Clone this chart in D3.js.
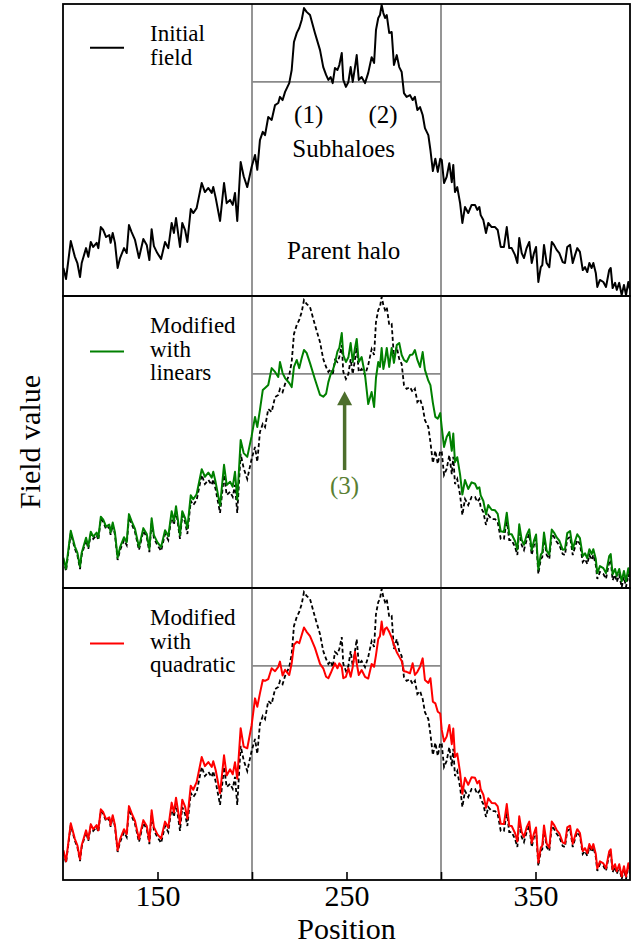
<!DOCTYPE html>
<html>
<head>
<meta charset="utf-8">
<script src="https://cdn.jsdelivr.net/npm/d3@7"></script>
<style>
body{margin:0;background:#fff;}
svg{display:block;}
svg text{font-family:"Liberation Serif","Times New Roman","DejaVu Serif",serif;}
</style>
</head>
<body>
<svg id="chart" width="641" height="947"></svg>
<script>
// sample positions (shared by the three fields)
var position = [
  100.2,101.6,104.1,106.3,107.6,109.0,109.9,112.2,113.4,114.7,116.0,117.8,118.7,120.0,121.3,122.8,124.5,125.2,126.3,127.5,128.9,
  130.2,132.3,133.7,134.9,136.3,138.1,140.2,142.5,144.3,145.7,146.9,148.1,149.9,
  151.9,154.0,155.7,157.5,158.7,159.8,161.9,163.1,164.6,165.8,167.6,168.9,170.7,
  173.4,175.1,176.9,178.7,179.5,180.8,183.1,185.2,186.6,188.4,189.8,191.0,192.2,194.0,195.6,197.5,
  199.8,201.6,202.8,204.2,205.7,206.9,208.6,210.4,212.2,213.9,
  214.8,216.2,217.5,219.7,221.0,222.2,223.7,225.0,226.3,227.5,
  228.9,230.7,233.3,236.0,237.7,239.2,240.4,241.6,242.7,243.9,
  245.2,246.2,247.5,248.3,249.7,251.0,252.2,253.3,254.5,255.4,
  256.5,258.0,259.8,261.5,263.3,264.6,265.6,266.8,267.7,268.6,
  269.5,270.4,271.3,272.6,273.9,275.1,276.6,277.9,279.2,280.4,
  281.8,283.6,285.0,286.2,287.5,288.9,290.3,291.5,293.3,294.4,
  295.7,297.0,298.3,299.6,300.4,
  301.6,303.0,304.4,305.7,306.5,307.4,308.6,310.1,311.3,312.7,
  314.4,316.2,318.0,319.2,320.3,321.0,322.4,323.8,325.0,326.8,
  328.6,330.0,331.6,333.3,334.8,336.1,337.4,339.2,340.4,341.4,
  342.7,343.9,345.3,346.7,348.0,349.2,350.3,351.5,352.8,353.6,
  354.5,355.9,357.3,358.6,359.8,361.2,362.6,364.4,365.6,366.8,
  368.3,369.7,370.9,372.1,373.5,375.0,376.2,377.4,378.5,379.7,
  380.6,381.9,382.7,384.1,385.9,387.3,389.0,389.8,390.8,392.1,
  393.0,394.3,395.6,396.8,397.9,399.1,400.0
];

var initialField = [
  9.6,5.8,18.8,13.4,11.3,6.5,11.3,16.4,13.4,18.5,16.8,18.2,16.4,23.6,22.6,20.2,20.9,18.2,21.6,18.2,9.6,
  13.0,16.4,14.7,24.3,21.9,19.2,13.0,19.5,17.5,12.3,22.9,17.1,14.7,
  12.7,18.5,16.4,25.0,21.6,26.7,16.8,25.0,22.6,18.5,29.8,28.4,30.1,
  38.7,35.6,37.0,35.3,37.3,33.6,25.7,38.7,31.8,32.9,31.2,35.3,25.7,45.9,41.0,37.3,
  44.2,48.3,43.2,53.4,56.2,55.1,61.3,60.3,65.4,66.1,
  68.2,67.1,69.9,72.9,77.4,87.0,90.1,91.8,94.5,98.6,
  97.3,96.2,90.1,84.2,78.4,75.7,74.0,75.0,72.9,78.1,
  77.4,79.1,83.2,74.0,71.6,73.3,78.4,73.3,78.4,82.5,
  74.0,75.0,72.9,76.4,81.8,79.8,91.1,95.2,96.2,99.7,
  96.9,95.2,96.2,90.1,90.4,79.1,82.5,78.4,76.7,69.5,
  68.2,68.8,67.1,68.2,63.7,64.7,62.0,57.5,55.1,50.0,
  42.8,47.0,42.5,47.0,46.6,
  38.7,40.8,45.5,39.0,44.9,35.6,37.3,31.8,25.0,30.5,
  28.4,31.2,31.2,29.5,30.5,27.7,26.0,21.6,25.0,23.6,
  23.6,22.6,16.8,16.8,23.6,16.4,16.4,14.0,11.3,19.9,
  14.7,13.0,16.4,18.5,11.3,14.7,16.8,4.8,9.9,10.6,
  17.5,11.3,9.9,18.5,17.5,15.8,14.7,11.6,11.3,16.8,
  17.5,11.3,14.0,16.4,15.1,8.9,9.9,8.2,11.3,9.6,
  11.3,7.9,3.1,5.5,4.8,3.1,8.9,9.6,2.7,4.5,
  2.1,4.5,0.3,3.8,0.3,4.8,2.1
];

var linearField = [
  10.4,6.6,19.6,14.2,12.1,7.3,12.1,17.2,14.2,19.3,17.6,19.0,17.2,24.4,23.4,21.0,21.7,19.0,22.4,19.0,10.4,
  14.0,17.4,15.7,25.3,22.9,20.2,14.0,20.5,18.5,13.3,23.9,18.1,15.7,
  14.0,19.8,17.7,26.3,22.9,28.0,18.1,26.3,23.9,20.5,31.8,30.4,32.1,
  40.7,38.1,39.5,37.8,39.8,36.1,28.2,42.2,35.3,36.4,34.7,39.8,30.2,50.7,46.2,44.9,
  52.0,58.6,55.1,61.0,67.8,68.5,69.5,75.3,74.0,72.3,
  77.4,73.6,71.9,70.2,68.8,75.7,78.1,75.3,78.8,81.5,
  80.5,77.0,71.5,66.1,65.5,66.5,70.5,73.2,74.5,77.0,
  81.0,82.2,87.3,79.8,77.4,79.0,83.9,77.4,82.2,85.3,
  77.4,79.1,73.0,63.0,67.1,62.0,72.0,77.4,75.7,82.2,
  75.0,78.0,82.2,75.7,82.2,77.1,83.2,83.9,79.8,78.1,
  77.4,79.8,80.0,81.5,78.1,75.7,80.8,74.7,71.0,69.5,
  63.4,58.6,58.0,59.9,55.0,
  48.3,51.7,53.4,47.0,52.9,43.1,44.8,38.8,32.0,37.0,
  33.9,36.2,35.7,34.0,34.5,31.7,29.8,25.2,28.4,26.8,
  26.6,25.4,19.4,19.2,25.8,18.5,18.4,16.0,13.2,21.8,
  16.5,14.8,18.1,20.1,12.9,16.2,18.3,6.3,11.4,12.1,
  19.0,12.8,11.4,20.0,19.0,17.3,16.2,13.1,13.3,18.8,
  19.5,13.3,16.0,18.4,17.1,10.9,11.9,10.2,13.3,11.6,
  13.3,9.9,5.1,7.5,6.8,5.1,10.9,11.6,4.7,6.5,
  4.1,6.5,2.3,5.8,2.3,6.8,4.1
];

var quadraticField = [
  10.2,6.4,19.4,14.0,11.9,7.1,11.9,17.0,14.0,19.1,17.4,18.8,17.0,24.2,23.2,20.8,21.5,18.8,22.2,18.8,10.2,
  14.0,17.4,15.7,25.3,22.9,20.2,14.0,20.5,18.5,13.3,23.9,18.1,15.7,
  14.2,20.0,17.9,26.5,23.1,28.2,19.3,27.5,25.1,21.0,32.3,30.9,33.5,
  42.1,39.0,40.4,38.7,40.7,37.6,29.7,42.7,35.8,37.9,36.2,40.3,34.7,52.0,45.7,45.1,
  53.0,62.2,59.3,63.9,68.5,68.2,68.8,72.5,71.5,73.0,
  74.8,70.0,72.0,70.2,74.2,80.5,81.6,81.1,83.9,86.5,
  85.0,83.5,79.5,74.0,72.5,69.6,69.1,70.8,72.5,74.2,
  72.5,74.2,73.0,69.1,69.6,72.5,69.6,73.0,78.2,74.2,
  70.2,71.9,69.6,69.0,74.0,73.0,77.0,82.5,83.5,88.5,
  84.0,86.0,86.5,85.0,83.0,80.5,78.0,76.5,75.0,71.5,
  71.3,70.8,74.2,70.2,71.3,73.0,75.9,68.5,67.5,69.1,
  61.1,60.5,57.6,57.0,51.4,
  47.4,49.1,53.1,46.5,51.9,42.1,43.3,36.8,29.5,35.0,
  32.6,35.2,35.0,33.1,34.0,31.1,29.2,24.7,28.0,26.4,
  26.3,25.2,19.3,19.2,26.0,18.6,18.5,16.0,13.2,21.8,
  16.5,14.7,18.0,20.0,12.7,16.0,18.0,6.0,11.1,11.8,
  18.7,12.5,11.1,20.0,18.9,17.1,16.0,12.8,12.5,18.0,
  18.6,12.4,15.1,17.4,16.1,9.9,10.9,9.2,12.3,10.6,
  12.3,8.9,4.0,6.4,5.7,4.0,9.8,10.5,3.6,5.4,
  3.0,5.4,1.2,4.7,1.2,5.7,3.0
];

var xTicks = [150, 200, 250, 300, 350];
var xTickLabels = ["150", "", "250", "", "350"];
var haloEdges = [200, 300];   // parent halo boundaries
var subhaloLevel = 73.3;      // level of the horizontal guide

var legendInitial = ["Initial", "field"];
var legendLinear = ["Modified", "with", "linears"];
var legendQuadratic = ["Modified", "with", "quadratic"];

var svg = d3.select("#chart");
var left = 63, right = 630, top0 = 4, panelH = 292;

var x = d3.scaleLinear().domain([100, 400]).range([left, right]);
var y = d3.scaleLinear().domain([0, 100]).range([panelH, 0]);

var field = function(vals){ return position.map(function(p, i){ return [p, vals[i]]; }); };
var line = d3.line().x(function(d){ return x(d[0]); }).y(function(d){ return y(d[1]); });

var panels = [
  {legend: legendInitial, color: "#000", main: initialField, dashed: null},
  {legend: legendLinear, color: "#008000", main: linearField, dashed: initialField},
  {legend: legendQuadratic, color: "#ff0000", main: quadraticField, dashed: initialField}
];

panels.forEach(function(p, k){
  var g = svg.append("g").attr("transform", "translate(0," + (top0 + k * panelH) + ")");

  g.append("clipPath").attr("id", "clip" + k)
    .append("rect").attr("x", left).attr("y", 0).attr("width", right - left).attr("height", panelH);

  // parent halo edges and subhalo level
  g.selectAll(".edge").data(haloEdges).enter().append("line")
    .attr("x1", function(d){ return x(d); }).attr("x2", function(d){ return x(d); })
    .attr("y1", 0).attr("y2", panelH)
    .attr("stroke", "#8a8a8a").attr("stroke-width", 1.8);
  g.append("line")
    .attr("x1", x(haloEdges[0])).attr("x2", x(haloEdges[1]))
    .attr("y1", y(subhaloLevel)).attr("y2", y(subhaloLevel))
    .attr("stroke", "#8a8a8a").attr("stroke-width", 1.8);

  var plot = g.append("g").attr("clip-path", "url(#clip" + k + ")");
  if (p.dashed) {
    plot.append("path").datum(field(p.dashed)).attr("d", line)
      .attr("fill", "none").attr("stroke", "#000").attr("stroke-width", 1.8)
      .attr("stroke-dasharray", "4,2.6");
  }
  plot.append("path").datum(field(p.main)).attr("d", line)
    .attr("fill", "none").attr("stroke", p.color).attr("stroke-width", 2)
    .attr("stroke-linejoin", "round");

  // legend
  var n = p.legend.length;
  g.append("line")
    .attr("x1", 90).attr("x2", 124)
    .attr("y1", 37 + (n - 1) * 23.5 / 2 - 5).attr("y2", 37 + (n - 1) * 23.5 / 2 - 5)
    .attr("stroke", p.color).attr("stroke-width", 2);
  g.selectAll(".leg").data(p.legend).enter().append("text")
    .attr("x", 150).attr("y", function(d, i){ return 37 + i * 23.5; })
    .style("font-size", "23px").text(function(d){ return d; });

  g.append("rect").attr("x", left).attr("y", 0).attr("width", right - left).attr("height", panelH)
    .attr("fill", "none").attr("stroke", "#000").attr("stroke-width", 1.8);

  p.g = g;
});

// annotations in the top panel
var topPanel = panels[0].g;
[["(1)", 230, 59.2], ["(2)", 269.3, 59.2], ["Subhaloes", 248.5, 47.6], ["Parent halo", 248.5, 12.7]]
  .forEach(function(a){
    topPanel.append("text").attr("x", x(a[1])).attr("y", y(a[2]))
      .attr("text-anchor", "middle").style("font-size", "25px").text(a[0]);
  });

// arrow (3) in the middle panel
var midPanel = panels[1].g;
var arrowColor = "#4d6e2c";
midPanel.append("line").attr("x1", x(249)).attr("x2", x(249))
  .attr("y1", y(40.4)).attr("y2", y(64))
  .attr("stroke", arrowColor).attr("stroke-width", 3.5);
midPanel.append("path")
  .attr("d", "M" + x(249) + "," + y(67.4) + "L" + (x(249) - 7.5) + "," + (y(67.4) + 14) + "L" + (x(249) + 7.5) + "," + (y(67.4) + 14) + "Z")
  .attr("fill", arrowColor);
midPanel.append("text").attr("x", x(249)).attr("y", y(32.2)).attr("text-anchor", "middle")
  .style("font-size", "25px").style("fill", "#5a7f33").text("(3)");

// x axis on the bottom panel
var axisX = d3.axisBottom(x).tickValues(xTicks)
  .tickFormat(function(d, i){ return xTickLabels[i]; })
  .tickSize(-8).tickPadding(5);
var gAxisX = panels[2].g.append("g").attr("transform", "translate(0," + panelH + ")").call(axisX);
gAxisX.attr("font-family", null).attr("font-size", null);
gAxisX.select(".domain").remove();
gAxisX.selectAll(".tick line").attr("stroke", "#000").attr("stroke-width", 1.6);
gAxisX.selectAll(".tick text").attr("fill", "#000").style("font-size", "30px");

svg.append("text").attr("x", (left + right) / 2).attr("y", 939)
  .attr("text-anchor", "middle").style("font-size", "30px").text("Position");
svg.append("text").attr("transform", "translate(40," + (top0 + 1.5 * panelH) + ") rotate(-90)")
  .attr("text-anchor", "middle").style("font-size", "30px").text("Field value");
</script>
</body>
</html>
